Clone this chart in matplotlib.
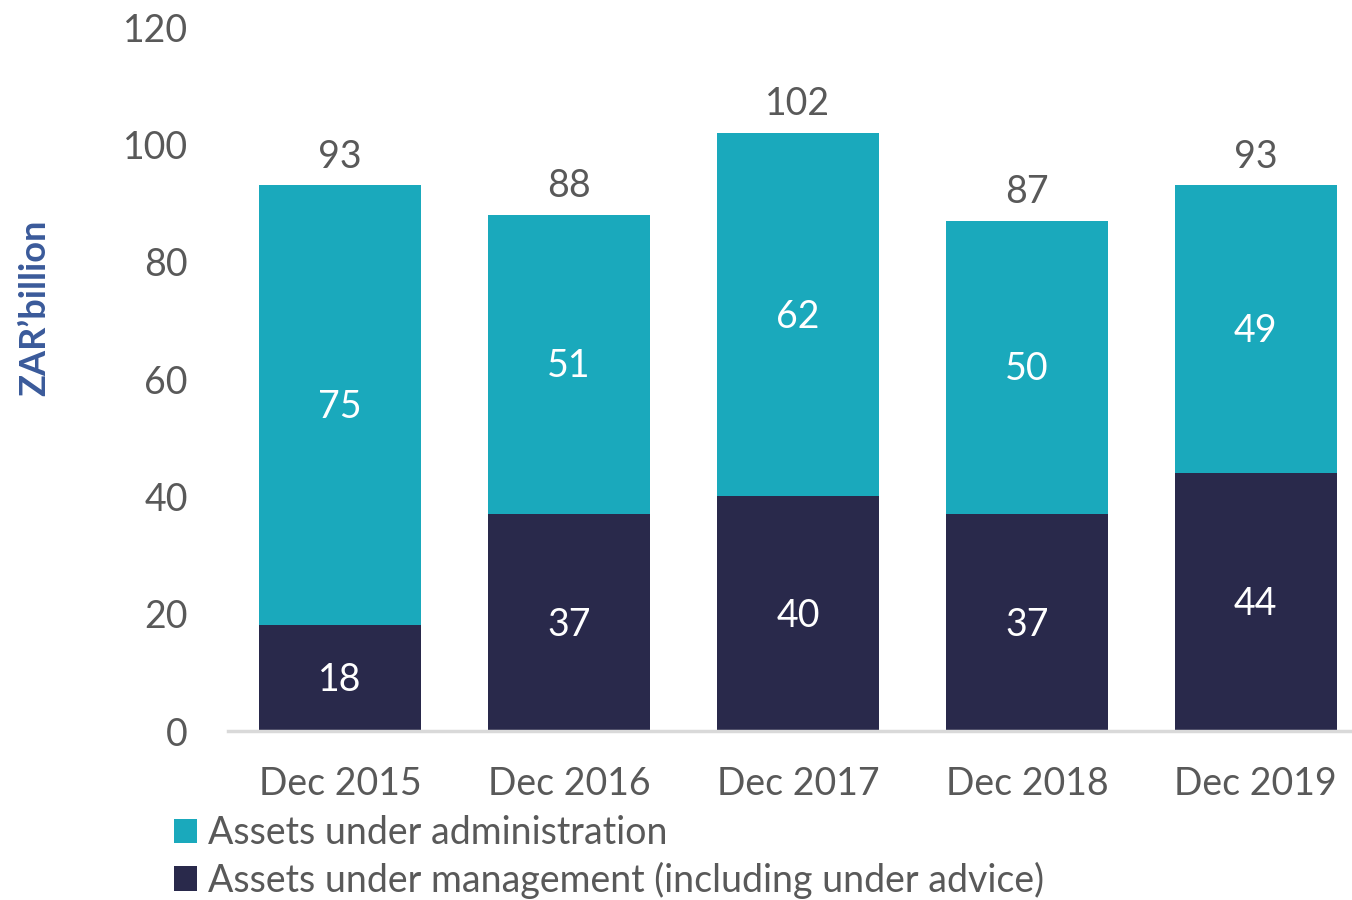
import matplotlib
matplotlib.use("Agg")
import matplotlib.pyplot as plt

categories = ["Dec 2015", "Dec 2016", "Dec 2017", "Dec 2018", "Dec 2019"]
aum = [18, 37, 40, 37, 44]
aua = [75, 51, 62, 50, 49]
totals = [93, 88, 102, 87, 93]
yticks = [0, 20, 40, 60, 80, 100, 120]

TEAL = "#1AA9BC"
NAVY = "#29294B"
GREY = "#595959"
FS = 27

plt.rcParams['font.family'] = ['Lato', 'DejaVu Sans']

fig = plt.figure(figsize=(13.52, 9), dpi=100)
ax = fig.add_axes([228/1352, 1-731/900, 1-228/1352, (731-27)/900])

x = list(range(len(categories)))
w = 0.71
b1 = ax.bar(x, aum, width=w, color=NAVY, label="Assets under management (including under advice)")
b2 = ax.bar(x, aua, width=w, bottom=aum, color=TEAL, label="Assets under administration")

for i in x:
    ax.annotate(str(aum[i]), (i, aum[i]/2), xytext=(0, -1.5), textcoords='offset points',
                ha='center', va='center', color='white', fontsize=FS)
    ax.annotate(str(aua[i]), (i, aum[i] + aua[i]/2), xytext=(0, -1.5), textcoords='offset points',
                ha='center', va='center', color='white', fontsize=FS)
    ax.annotate(str(totals[i]), (i, totals[i]), xytext=(0, 20.5), textcoords='offset points',
                ha='center', va='center', color=GREY, fontsize=FS)

ax.set_xlim(-0.49, 4.42)
ax.set_ylim(0, 120)
ax.set_yticks(yticks)
ax.set_xticks(x)
ax.set_xticklabels(categories)
ax.tick_params(axis='both', length=0, labelsize=FS, labelcolor=GREY)
ax.tick_params(axis='y', pad=29)
ax.tick_params(axis='x', pad=25)
for s in ['top', 'right', 'left']:
    ax.spines[s].set_visible(False)
ax.spines['bottom'].set_color('#D9D9D9')
ax.spines['bottom'].set_linewidth(2.5)

fig.text(35/1352, 1-308/900, "ZAR\u2019billion", rotation=90, ha='center', va='center',
         color='#3A5A9A', fontsize=26, fontweight='bold')

fig.legend(handles=[b2, b1], loc='upper left', bbox_to_anchor=(174/1352, 1-815/900),
           frameon=False, fontsize=FS, labelcolor=GREY, handlelength=0.62, handleheight=0.62,
           handletextpad=0.28, labelspacing=0.28, borderaxespad=0, borderpad=0)

fig.savefig("out.png", dpi=100)
